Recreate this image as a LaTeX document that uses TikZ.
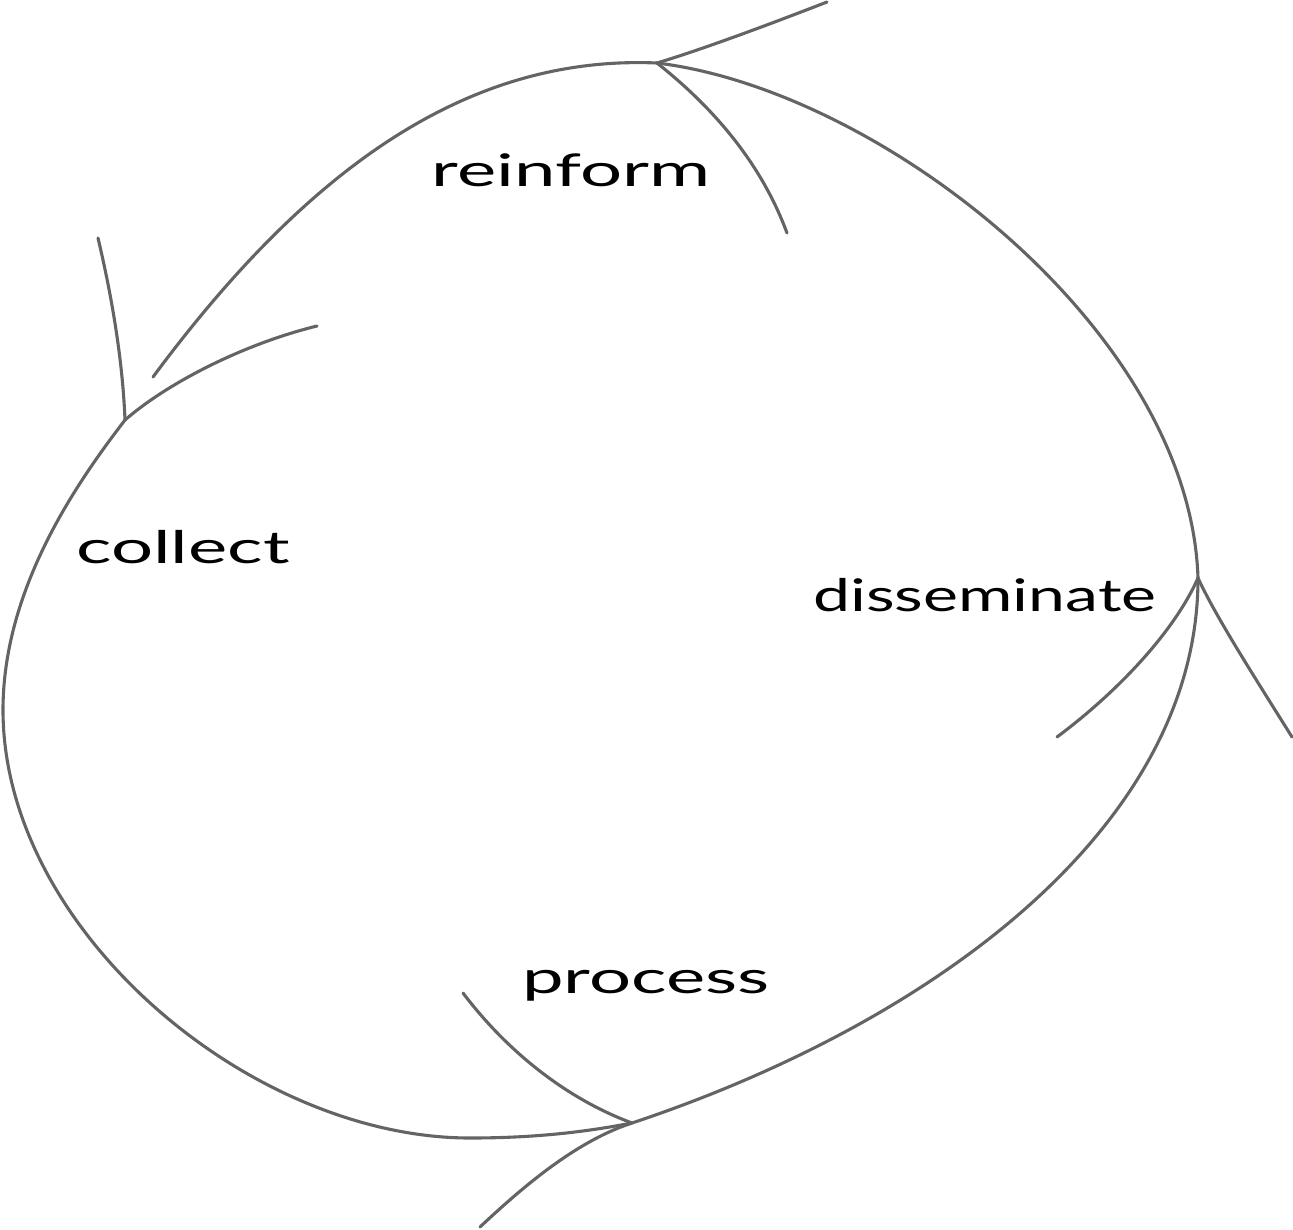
\documentclass[tikz,border=0pt]{standalone}
\usepackage{fontspec}
\newfontfamily\handfont[FakeStretch=1.65]{Lato}
\newfontfamily\handfontnarrow[FakeStretch=1.47]{Lato}
\definecolor{penline}{RGB}{100,100,100}
\tikzset{
  arcline/.style={draw=penline, line width=3.1pt, line cap=round, line join=round},
  barbline/.style={draw=penline, line width=3.1pt, line cap=round},
  steplabel/.style={font=\handfont\fontsize{45}{47}\selectfont, text=black, inner sep=0pt, anchor=base}
}
\begin{document}
\begin{tikzpicture}[x=1pt, y=-1pt]
\useasboundingbox (0,0) rectangle (1293,1229);

% junction (arrow tip) coordinates
\coordinate (tipcollect) at (125,420);
\coordinate (tipprocess) at (632,1123);
\coordinate (tipdissem) at (1198,578);
\coordinate (tipreinf) at (657,63);
\coordinate (reinfend) at (153,377);
\coordinate (leftstart) at (317,326);
\coordinate (leftmost) at (3,710);
\coordinate (bottommost) at (470,1138);

% labels
\node[steplabel] (reinform) at (571,186) {reinform};
\node[steplabel] (collect) at (183,563) {collect};
\node[steplabel, font=\handfontnarrow\fontsize{45}{47}\selectfont] (disseminate) at (985,611) {disseminate};
\node[steplabel] (process) at (646,993) {process};

% collect -> process (left side, starting from the lower barb)
\draw[arcline] (leftstart) .. controls (240,345) and (165,385) .. (tipcollect)
  .. controls (75,485) and (3,590) .. (leftmost)
  .. controls (3,930) and (250,1138) .. (bottommost)
  .. controls (540,1138) and (590,1131) .. (tipprocess);

% process -> disseminate
\draw[arcline] (tipprocess) .. controls (932,1023) and (1198,828) .. (tipdissem);

% disseminate -> reinform
\draw[arcline] (tipdissem) .. controls (1190,330) and (880,90) .. (tipreinf);

% reinform -> collect (stops short of the tip)
\draw[arcline] (tipreinf) .. controls (470,55) and (310,165) .. (reinfend);

% arrowhead barbs
\coordinate (bc1) at (98,238);
\coordinate (bp1) at (463,993);
\coordinate (bp2) at (480,1227);
\coordinate (bd1) at (1057,737);
\coordinate (bd2) at (1292,737);
\coordinate (br1) at (827,2);
\coordinate (br2) at (787,233);

\draw[barbline] (bc1) .. controls (115,310) and (123,370) .. (tipcollect);

\draw[barbline] (bp1) .. controls (510,1055) and (570,1100) .. (tipprocess);
\draw[barbline] (bp2) .. controls (530,1180) and (580,1140) .. (tipprocess);

\draw[barbline] (bd1) .. controls (1120,690) and (1175,630) .. (tipdissem);
\draw[barbline] (bd2) .. controls (1250,670) and (1215,615) .. (tipdissem);

\draw[barbline] (br1) .. controls (760,28) and (700,50) .. (tipreinf);
\draw[barbline] (br2) .. controls (760,160) and (710,105) .. (tipreinf);
\end{tikzpicture}
\end{document}
